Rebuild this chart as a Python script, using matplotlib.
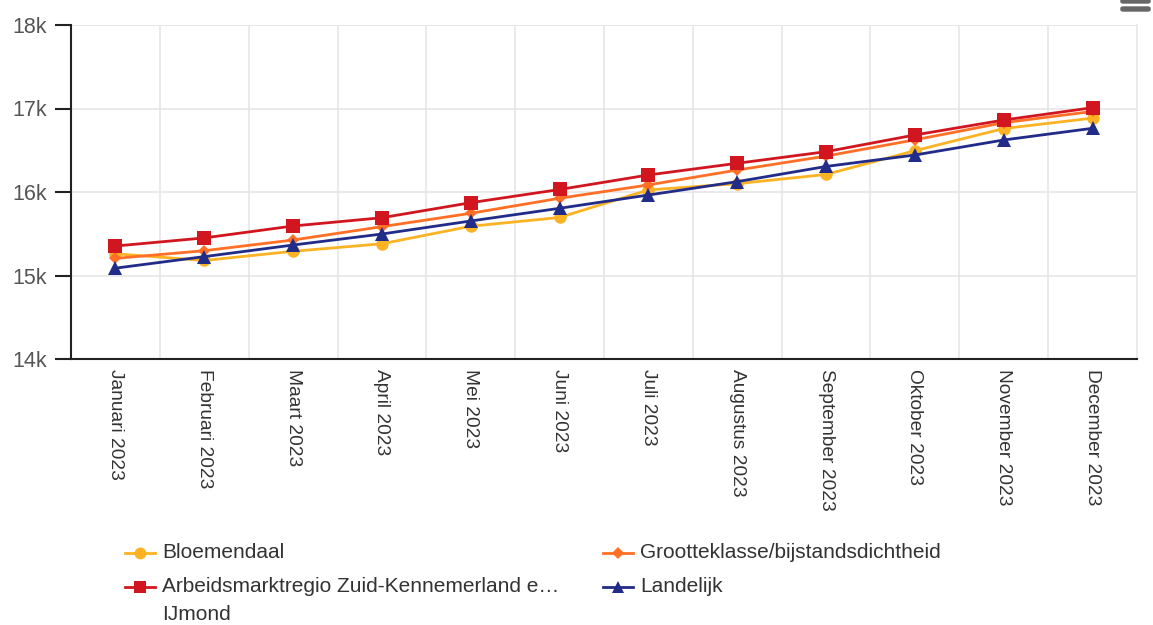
import matplotlib
matplotlib.use("Agg")
import matplotlib.pyplot as plt
from matplotlib.lines import Line2D
from matplotlib.patches import FancyBboxPatch
from matplotlib.ticker import FuncFormatter, MultipleLocator

plt.rcParams['font.family'] = ['Liberation Sans', 'DejaVu Sans']

months = ["Januari 2023", "Februari 2023", "Maart 2023", "April 2023", "Mei 2023",
          "Juni 2023", "Juli 2023", "Augustus 2023", "September 2023",
          "Oktober 2023", "November 2023", "December 2023"]

bloemendaal = [15260, 15180, 15290, 15380, 15590, 15695, 16025, 16100, 16210, 16495, 16760, 16885]
grootteklasse = [15205, 15297, 15425, 15585, 15745, 15925, 16085, 16263, 16430, 16625, 16830, 16965]
arbeidsmarkt = [15353, 15450, 15593, 15692, 15872, 16030, 16204, 16344, 16483, 16683, 16862, 17010]
landelijk = [15088, 15226, 15365, 15497, 15653, 15805, 15964, 16124, 16306, 16443, 16623, 16763]

series = [
    ("Bloemendaal", bloemendaal, "#fbb324", "o", 9),
    ("Grootteklasse/bijstandsdichtheid", grootteklasse, "#ff6f25", "D", 6.5),
    ("Arbeidsmarktregio Zuid-Kennemerland e…\nIJmond", arbeidsmarkt, "#d1161f", "s", 9.5),
    ("Landelijk", landelijk, "#212b88", "^", 9.5),
]

W, H = 1153, 625
fig = plt.figure(figsize=(W / 100, H / 100), dpi=100)
left, right, top, bottom = 71, 1137, 25, 359
ax = fig.add_axes([left / W, 1 - bottom / H, (right - left) / W, (bottom - top) / H])

x = list(range(len(months)))
for name, vals, col, mk, ms in series:
    ax.plot(x, vals, color=col, lw=2.0, marker=mk, markersize=ms,
            markeredgewidth=0, label=name)

ax.set_xlim(-0.5, len(months) - 0.5)
ax.set_ylim(14000, 18000)
ax.yaxis.set_major_locator(MultipleLocator(1000))
ax.yaxis.set_major_formatter(FuncFormatter(lambda v, p: f"{int(v/1000)}k"))
ax.set_xticks(x)
ax.set_xticklabels(months, rotation=270, fontsize=13.8, color="#333333", va="top", ha="center")
ax.set_xticks([i + 0.5 for i in x[:-1]], minor=True)
ax.tick_params(axis="x", which="major", length=0, pad=7)
ax.tick_params(axis="x", which="minor", length=0)
ax.tick_params(axis="y", length=11.5, width=1.5, color="#222222", labelsize=15.5,
               labelcolor="#555555", pad=6)

ax.grid(True, axis="y", color="#e6e6e6", lw=1.2)
ax.grid(True, axis="x", which="minor", color="#e6e6e6", lw=1.2)
ax.set_axisbelow(True)
ax.spines["top"].set_visible(False)
ax.spines["right"].set_color("#e6e6e6")
ax.spines["right"].set_linewidth(1.2)
for s in ["left", "bottom"]:
    ax.spines[s].set_color("#222222")
    ax.spines[s].set_linewidth(1.5)
ax.axhline(18000, color="#e6e6e6", lw=1.2, zorder=0)

# Legend (two columns)
leg_items = [
    (0, 125, 553),
    (1, 603, 553),
    (2, 125, 587),
    (3, 603, 587),
]
for idx, xpx, ypx in leg_items:
    name, vals, col, mk, ms = series[idx]
    yf = 1 - ypx / H
    fig.add_artist(Line2D([xpx / W, (xpx + 30) / W], [yf, yf], color=col, lw=2.0,
                          transform=fig.transFigure))
    fig.add_artist(Line2D([(xpx + 15) / W], [yf], color=col, marker=mk,
                          markersize=ms * 0.95, markeredgewidth=0, transform=fig.transFigure))
    for j, ln in enumerate(name.split("\n")):
        fig.text((xpx + 37) / W, 1 - (ypx + j * 27) / H, ln, fontsize=15,
                 color="#333333", ha="left", va="center")

# hamburger menu icon
for yb in [-1, 7]:
    fig.add_artist(FancyBboxPatch((1121 / W, 1 - (yb + 4) / H), 29 / W, 4 / H,
                                  boxstyle="round,pad=0,rounding_size=0.002",
                                  color="#666666", transform=fig.transFigure))

fig.savefig("out.png", dpi=100)
